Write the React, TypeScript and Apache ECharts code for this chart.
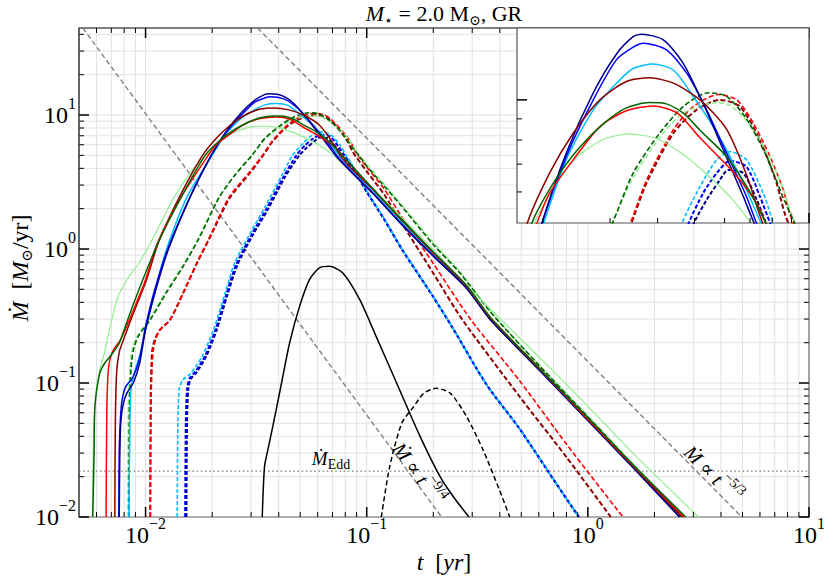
import React, { useEffect, useRef } from 'react';
import * as echarts from 'echarts';

const FF = '"Liberation Serif", "DejaVu Serif", "Times New Roman", serif';

// axis ranges
const X_RANGE = [0.005, 10];
const Y_RANGE = [0.01, 44.6];
const INSET_X_RANGE = [0.01708, 0.1];
const INSET_Y_RANGE = [5.05, 14.9];

// tick positions
const X_DECADES = [0.001, 0.01, 0.1, 1];
const Y_DECADES = [0.01, 0.1, 1, 10];
const X_MAJOR = [0.01, 0.1, 1, 10];
const Y_MAJOR = [0.01, 0.1, 1, 10];
const MINOR_MULT = [2, 3, 4, 5, 6, 7, 8, 9];
const INSET_X_MINOR = [0.02, 0.03, 0.04, 0.05, 0.06, 0.07, 0.08, 0.09];
const INSET_X_MAJOR = [0.1];
const INSET_Y_MINOR = [6, 7, 8, 9];
const INSET_Y_MAJOR = [10];

// reference lines
const POW_53: [number, number][] = [[0.0321, 44.6], [4.97, 0.01]];
const POW_94: [number, number][] = [[0.0052, 44.6], [0.218, 0.01]];
const M_EDD = 0.022;
const EDD_LINE: [number, number][] = [[0.005, M_EDD], [10, M_EDD]];

// curves [t (yr), Mdot (Msun/yr)]
const BLACK_S: [number, number][] = [[0.0337,0.01],[0.0345,0.0237],[0.0357,0.0316],[0.0376,0.0472],[0.0412,0.1],[0.0448,0.199],[0.0497,0.373],[0.0551,0.591],[0.0611,0.723],[0.0678,0.743],[0.0778,0.664],[0.093,0.419],[0.1104,0.222],[0.1365,0.1],[0.1745,0.0398],[0.215,0.0199],[0.247,0.0141],[0.29,0.01]];
const BLACK_D: [number, number][] = [[0.1164,0.01],[0.127,0.0237],[0.144,0.05],[0.163,0.0665],[0.181,0.0837],[0.206,0.0914],[0.239,0.0837],[0.283,0.0561],[0.336,0.0316],[0.399,0.0158],[0.443,0.01]];

const LG_S: [number, number][] = [[0.00575,0.01],[0.00582,0.04],[0.00595,0.08],[0.0062,0.125],[0.0065,0.165],[0.0069,0.26],[0.0075,0.44],[0.0083,0.6],[0.0093,0.78],[0.0105,1.1],[0.0118,1.6],[0.0133,2.35],[0.0159,3.7],[0.0188,5.0],[0.0215,6.2],[0.0246,7.3],[0.029,8.05],[0.0338,8.28],[0.04,8.05],[0.047,7.35],[0.055,6.5],[0.063,5.75],[0.0707,5.0],[0.08,4.15],[0.1,3.1],[0.142,1.76],[0.2,0.99],[0.264,0.6],[0.411,0.29],[0.7,0.122],[1.0,0.067],[1.6,0.03],[3.16,0.01]];
const DG_S: [number, number][] = [[0.00577,0.01],[0.00585,0.03],[0.0059,0.066],[0.0062,0.118],[0.00654,0.141],[0.007,0.162],[0.0076,0.198],[0.0084,0.314],[0.0096,0.56],[0.0116,1.19],[0.0147,2.55],[0.0186,5.0],[0.0215,6.4],[0.025,7.7],[0.029,8.8],[0.033,9.55],[0.038,9.85],[0.0422,9.78],[0.047,9.25],[0.0517,8.45],[0.0607,7.3],[0.0699,6.0],[0.0774,5.0],[0.087,4.05],[0.107,2.8],[0.142,1.7],[0.2,0.95],[0.283,0.535],[0.362,0.31],[0.6,0.13],[1.0,0.055],[1.6,0.0245],[2.77,0.01]];
const R_S: [number, number][] = [[0.00663,0.01],[0.00667,0.05],[0.00675,0.11],[0.0069,0.15],[0.00716,0.177],[0.0077,0.21],[0.0087,0.333],[0.01,0.59],[0.0113,1.1],[0.0145,2.45],[0.0192,5.0],[0.0208,5.96],[0.024,7.17],[0.0282,8.62],[0.033,9.4],[0.0389,9.67],[0.045,9.3],[0.0517,8.1],[0.0632,6.7],[0.0729,5.64],[0.0774,5.0],[0.087,4.05],[0.107,2.78],[0.142,1.69],[0.2,0.94],[0.283,0.53],[0.362,0.308],[0.6,0.13],[1.0,0.054],[1.6,0.0242],[2.72,0.01]];
const DR_S: [number, number][] = [[0.00726,0.01],[0.0073,0.05],[0.0074,0.12],[0.0076,0.17],[0.0079,0.205],[0.0088,0.33],[0.0101,0.59],[0.0115,1.15],[0.0145,2.6],[0.0181,5.0],[0.0208,6.66],[0.024,8.31],[0.0282,10.0],[0.0331,11.07],[0.0381,11.3],[0.044,10.97],[0.0517,10.0],[0.0607,8.5],[0.0685,6.6],[0.0758,5.0],[0.085,4.0],[0.107,2.78],[0.142,1.68],[0.2,0.935],[0.283,0.528],[0.362,0.306],[0.6,0.129],[1.0,0.0535],[1.6,0.024],[2.66,0.01]];
const DS_S: [number, number][] = [[0.0084,0.01],[0.0085,0.05],[0.0086,0.09],[0.0089,0.12],[0.0094,0.16],[0.0101,0.27],[0.0111,0.5],[0.0124,0.98],[0.0155,2.5],[0.02,5.0],[0.023,7.17],[0.0271,9.46],[0.0312,10.97],[0.0345,11.9],[0.0389,12.2],[0.044,11.8],[0.0496,10.2],[0.056,8.62],[0.062,7.3],[0.0685,6.07],[0.0751,5.0],[0.085,3.95],[0.107,2.7],[0.142,1.62],[0.2,0.91],[0.283,0.515],[0.362,0.3],[0.6,0.127],[1.0,0.053],[1.6,0.0237],[2.62,0.01]];
const B_S: [number, number][] = [[0.00757,0.01],[0.0076,0.03],[0.0077,0.055],[0.00783,0.0746],[0.00813,0.094],[0.00873,0.109],[0.00937,0.149],[0.01,0.264],[0.011,0.497],[0.0126,1.0],[0.016,2.5],[0.0198,5.0],[0.023,7.3],[0.0271,10.0],[0.0312,12.5],[0.0345,13.4],[0.0367,13.7],[0.0422,13.2],[0.0477,11.6],[0.0538,9.46],[0.0607,7.44],[0.0685,5.85],[0.0731,5.0],[0.085,3.8],[0.107,2.6],[0.142,1.57],[0.2,0.89],[0.283,0.51],[0.362,0.298],[0.6,0.126],[1.0,0.0525],[1.6,0.0235],[2.6,0.01]];
const DB_S: [number, number][] = [[0.0076,0.01],[0.00765,0.03],[0.00772,0.05],[0.0079,0.068],[0.0082,0.083],[0.0088,0.1],[0.0094,0.14],[0.01,0.25],[0.0111,0.49],[0.0127,1.0],[0.016,2.5],[0.0198,5.0],[0.023,7.44],[0.0271,10.4],[0.0312,12.9],[0.0345,14.2],[0.0363,14.4],[0.0414,13.95],[0.0467,12.25],[0.0527,9.8],[0.0595,7.58],[0.0672,5.85],[0.0721,5.0],[0.085,3.75],[0.107,2.58],[0.142,1.56],[0.2,0.885],[0.283,0.508],[0.362,0.297],[0.6,0.126],[1.0,0.0525],[1.6,0.0234],[2.6,0.01]];

const DG_D: [number, number][] = [[0.0084,0.01],[0.00845,0.06],[0.0086,0.13],[0.0088,0.175],[0.00925,0.222],[0.0105,0.296],[0.0124,0.47],[0.0148,0.743],[0.0174,1.19],[0.0215,2.42],[0.0255,3.6],[0.0303,5.0],[0.0345,6.66],[0.0405,8.31],[0.0467,9.63],[0.0543,10.4],[0.0607,10.2],[0.0685,9.0],[0.0774,7.3],[0.0856,5.8],[0.093,4.9],[0.1,4.15],[0.12,2.95],[0.1416,2.15],[0.2,1.08],[0.2635,0.664],[0.362,0.34],[0.6,0.136],[1.0,0.056],[1.6,0.0245],[2.7,0.01]];
const LG_D: [number, number][] = [[0.0083,0.01],[0.00835,0.06],[0.0085,0.13],[0.0087,0.18],[0.0092,0.225],[0.0104,0.3],[0.0123,0.475],[0.0147,0.75],[0.0173,1.2],[0.0214,2.42],[0.0254,3.6],[0.0302,5.0],[0.0345,6.5],[0.0405,8.1],[0.0467,9.3],[0.0572,9.85],[0.062,9.7],[0.0685,8.9],[0.0774,7.5],[0.0856,6.1],[0.0906,5.2],[0.1,4.3],[0.12,3.05],[0.1416,2.2],[0.2,1.12],[0.2635,0.68],[0.362,0.345],[0.6,0.137],[1.0,0.057],[1.6,0.025],[2.72,0.01]];
const R_D: [number, number][] = [[0.0105,0.01],[0.0106,0.08],[0.0108,0.17],[0.0111,0.21],[0.0116,0.249],[0.0129,0.296],[0.0148,0.47],[0.0171,0.79],[0.0193,1.19],[0.0238,2.42],[0.0294,3.72],[0.0338,5.0],[0.0374,6.4],[0.044,8.47],[0.0496,9.63],[0.0577,10.3],[0.0646,10.0],[0.0714,8.79],[0.079,7.3],[0.0856,6.07],[0.0891,5.3],[0.1,4.1],[0.12,2.8],[0.142,1.8],[0.2,0.78],[0.296,0.296],[0.489,0.105],[0.8,0.035],[1.44,0.01]];
const DR_D: [number, number][] = [[0.0105,0.01],[0.01055,0.08],[0.0107,0.17],[0.011,0.21],[0.0116,0.249],[0.0129,0.296],[0.0148,0.47],[0.0171,0.79],[0.0194,1.19],[0.024,2.4],[0.0296,3.68],[0.034,5.0],[0.0374,6.3],[0.044,8.31],[0.0506,9.46],[0.0583,10.0],[0.0659,9.63],[0.0743,8.0],[0.0822,6.3],[0.0865,5.3],[0.1,3.8],[0.12,2.55],[0.142,1.62],[0.2,0.66],[0.271,0.296],[0.489,0.08],[0.8,0.028],[1.27,0.01]];
const DS_D: [number, number][] = [[0.0139,0.01],[0.014,0.05],[0.0142,0.09],[0.0147,0.105],[0.016,0.118],[0.018,0.158],[0.0203,0.25],[0.0229,0.47],[0.0253,0.789],[0.03,1.35],[0.0349,2.1],[0.0415,3.6],[0.0462,5.0],[0.0517,6.18],[0.0572,7.17],[0.062,7.5],[0.0685,7.17],[0.0758,5.96],[0.0809,5.0],[0.09,3.75],[0.0995,2.75],[0.12,1.68],[0.145,0.99],[0.2,0.44],[0.244,0.26],[0.35,0.096],[0.489,0.046],[0.7,0.019],[0.91,0.01]];
const B_D: [number, number][] = [[0.0151,0.01],[0.0152,0.05],[0.0154,0.09],[0.0158,0.108],[0.0168,0.122],[0.0186,0.16],[0.0207,0.25],[0.0232,0.46],[0.0257,0.77],[0.0303,1.3],[0.0352,2.0],[0.042,3.45],[0.0481,5.0],[0.0527,5.96],[0.0572,6.66],[0.062,7.13],[0.0685,6.9],[0.0743,5.85],[0.0793,5.0],[0.09,3.7],[0.0995,2.72],[0.12,1.67],[0.145,0.985],[0.2,0.44],[0.244,0.26],[0.35,0.096],[0.489,0.046],[0.7,0.019],[0.91,0.01]];
const DB_D: [number, number][] = [[0.0153,0.01],[0.0154,0.05],[0.0156,0.09],[0.016,0.107],[0.017,0.12],[0.0188,0.158],[0.0209,0.245],[0.0234,0.45],[0.026,0.76],[0.0306,1.28],[0.0356,1.95],[0.0425,3.4],[0.0496,5.0],[0.0538,5.74],[0.0583,6.41],[0.0613,6.78],[0.0672,6.66],[0.0729,5.74],[0.0774,5.0],[0.09,3.6],[0.0995,2.7],[0.12,1.66],[0.145,0.98],[0.2,0.438],[0.244,0.259],[0.35,0.096],[0.489,0.046],[0.7,0.019],[0.91,0.01]];

type Curve = { data: [number, number][]; color: string; width: number; dash?: number[]; inset: boolean };

const CURVES: Curve[] = [
  { data: BLACK_S, color: '#000000', width: 1.5, inset: false },
  { data: BLACK_D, color: '#000000', width: 1.5, dash: [5, 3], inset: false },
  { data: DB_D, color: '#00008b', width: 2.0, dash: [4, 2], inset: true },
  { data: B_D, color: '#0000ff', width: 2.0, dash: [4, 2], inset: true },
  { data: DS_D, color: '#00bfff', width: 1.6, dash: [4, 2], inset: true },
  { data: DR_D, color: '#8b0000', width: 2.0, dash: [5, 2.5], inset: true },
  { data: R_D, color: '#ff0000', width: 1.6, dash: [5, 2.5], inset: true },
  { data: LG_D, color: '#90ee90', width: 1.6, dash: [5, 2.5], inset: true },
  { data: DG_D, color: '#006400', width: 1.6, dash: [5, 2.5], inset: true },
  { data: LG_S, color: '#90ee90', width: 1.2, inset: true },
  { data: DS_S, color: '#00bfff', width: 1.5, inset: true },
  { data: B_S, color: '#0000ff', width: 1.5, inset: true },
  { data: DB_S, color: '#00008b', width: 1.5, inset: true },
  { data: DR_S, color: '#8b0000', width: 1.5, inset: true },
  { data: R_S, color: '#ff0000', width: 1.5, inset: true },
  { data: DG_S, color: '#006400', width: 1.5, inset: true },
];

function subRich(S: number, s: number, P: number) {
  return {
    n: { fontFamily: FF, fontSize: S, color: '#000', padding: [0, 0, P, 0] },
    i: { fontFamily: FF, fontSize: S, color: '#000', fontStyle: 'italic', padding: [0, 0, P, 0] },
    sub: { fontFamily: FF, fontSize: s, color: '#000', verticalAlign: 'bottom' },
  };
}
function supRich(S: number, s: number, P: number, color = '#000') {
  return {
    n: { fontFamily: FF, fontSize: S, color, padding: [P, 0, 0, 0] },
    i: { fontFamily: FF, fontSize: S, color, fontStyle: 'italic', padding: [P, 0, 0, 0] },
    sup: { fontFamily: FF, fontSize: s, color, verticalAlign: 'top' },
  };
}

const TICK_RICH = {
  b: { fontFamily: FF, fontSize: 24, color: '#000', padding: [8, 0, 8, 0] },
  s: { fontFamily: FF, fontSize: 16, color: '#000', verticalAlign: 'top' },
};

function powLabel(v: number) {
  const e = Math.log10(v);
  const r = Math.round(e);
  if (Math.abs(e - r) > 1e-6) return '';
  return '{b|10}{s|' + (r < 0 ? '\u2212' + -r : String(r)) + '}';
}

function minorList(decades: number[], lo: number, hi: number) {
  const out: number[] = [];
  decades.forEach((d) => MINOR_MULT.forEach((m) => {
    const v = +(d * m).toPrecision(6);
    if (v > lo && v < hi) out.push(v);
  }));
  return out;
}

function tickSeries(axis: 'x' | 'y', major: number[], minor: number[], ref: number, idx: number, opts: { grid: boolean; both: boolean; z: number }) {
  const data: number[][] = [];
  major.forEach((v) => data.push(axis === 'x' ? [v, ref, 1] : [ref, v, 1]));
  minor.forEach((v) => data.push(axis === 'x' ? [v, ref, 0] : [ref, v, 0]));
  return {
    type: 'custom',
    xAxisIndex: idx,
    yAxisIndex: idx,
    silent: true,
    z: opts.z,
    data,
    renderItem: (params: any, api: any) => {
      const cs = params.coordSys;
      const p = api.coord([api.value(0), api.value(1)]);
      const isMajor = api.value(2) === 1;
      const len = isMajor ? 10 : 5;
      const lw = isMajor ? 1.5 : 1;
      const children: any[] = [];
      const tickStyle = { stroke: '#000', lineWidth: lw };
      if (axis === 'x') {
        const x = p[0];
        if (opts.grid) {
          children.push({ type: 'line', shape: { x1: x, y1: cs.y, x2: x, y2: cs.y + cs.height }, style: { stroke: '#e2e2e2', lineWidth: 1 } });
        } else {
          children.push({ type: 'line', shape: { x1: x, y1: cs.y + cs.height, x2: x, y2: cs.y + cs.height - len }, style: tickStyle });
          if (opts.both) children.push({ type: 'line', shape: { x1: x, y1: cs.y, x2: x, y2: cs.y + len }, style: tickStyle });
        }
      } else {
        const y = p[1];
        if (opts.grid) {
          children.push({ type: 'line', shape: { x1: cs.x, y1: y, x2: cs.x + cs.width, y2: y }, style: { stroke: '#e2e2e2', lineWidth: 1 } });
        } else {
          children.push({ type: 'line', shape: { x1: cs.x, y1: y, x2: cs.x + len, y2: y }, style: tickStyle });
          if (opts.both) children.push({ type: 'line', shape: { x1: cs.x + cs.width, y1: y, x2: cs.x + cs.width - len, y2: y }, style: tickStyle });
        }
      }
      return { type: 'group', children };
    },
  };
}

function buildOption() {
  const xMinor = minorList(X_DECADES, X_RANGE[0], X_RANGE[1]);
  const yMinor = minorList(Y_DECADES, Y_RANGE[0], Y_RANGE[1]);

  const series: any[] = [];
  // main grid lines
  series.push(tickSeries('x', X_MAJOR, xMinor, 1, 0, { grid: true, both: false, z: 1 }));
  series.push(tickSeries('y', Y_MAJOR, yMinor, 1, 0, { grid: true, both: false, z: 1 }));

  const refLine = (data: [number, number][], dash: number[], width: number) => ({
    type: 'line', data, xAxisIndex: 0, yAxisIndex: 0, showSymbol: false, symbol: 'none', silent: true, z: 2,
    lineStyle: { color: '#808080', width, type: dash },
  });
  series.push(refLine(POW_94, [5, 3], 1.4));
  series.push(refLine(POW_53, [5, 3], 1.4));
  series.push(refLine(EDD_LINE, [1.6, 2.6], 1.3));

  CURVES.forEach((c) => {
    const base = {
      type: 'line', data: c.data, showSymbol: false, symbol: 'none', silent: true, smooth: 0.25,
      lineStyle: { color: c.color, width: c.width, type: c.dash ? c.dash : 'solid' },
    };
    series.push({ ...base, xAxisIndex: 0, yAxisIndex: 0, z: 3 });
    if (c.inset) series.push({ ...base, xAxisIndex: 1, yAxisIndex: 1, z: 7 });
  });

  // main ticks (all four sides)
  series.push(tickSeries('x', X_MAJOR, xMinor, 1, 0, { grid: false, both: true, z: 4 }));
  series.push(tickSeries('y', Y_MAJOR, yMinor, 1, 0, { grid: false, both: true, z: 4 }));
  // inset ticks (bottom and left)
  series.push(tickSeries('x', INSET_X_MAJOR, INSET_X_MINOR, 8, 1, { grid: false, both: false, z: 8 }));
  series.push(tickSeries('y', INSET_Y_MAJOR, INSET_Y_MINOR, 0.05, 1, { grid: false, both: false, z: 8 }));

  const graphic: any[] = [
    {
      type: 'text', x: 444, y: 15, z: 20, silent: true,
      style: { text: '{i|M}{sub|\u22c6}{n| = 2.0 M}{sub|\u2299}{n|, GR}', rich: subRich(22, 14, 3), align: 'center', verticalAlign: 'middle' },
    },
    {
      type: 'text', x: 444, y: 562, z: 20, silent: true,
      style: { text: '{i|t}{n|  [}{i|yr}{n|]}', rich: subRich(24, 15, 0), align: 'center', verticalAlign: 'middle' },
    },
    {
      type: 'text', x: 21, y: 268, rotation: Math.PI / 2, z: 20, silent: true,
      style: { text: '{i|\u1e40}{n|  [}{i|M}{sub|\u2299}{n|/yr]}', rich: subRich(24, 15, 3), align: 'center', verticalAlign: 'middle' },
    },
    {
      type: 'text', x: 331, y: 460, z: 20, silent: true,
      style: { text: '{i|\u1e40}{sub|Edd}', rich: subRich(19, 14, 3), align: 'center', verticalAlign: 'middle' },
    },
    {
      type: 'text', x: 421, y: 472, rotation: -0.937, z: 20, silent: true,
      style: { text: '{i|\u1e40}{n| \u221d }{i|t}{sup|\u22129/4}', rich: supRich(20, 14, 6), align: 'center', verticalAlign: 'middle' },
    },
    {
      type: 'text', x: 715, y: 472, rotation: -0.789, z: 20, silent: true,
      style: { text: '{i|\u1e40}{n| \u221d }{i|t}{sup|\u22125/3}', rich: supRich(20, 14, 6), align: 'center', verticalAlign: 'middle' },
    },
  ];

  return {
    animation: false,
    backgroundColor: '#ffffff',
    grid: [
      { left: 79, top: 28, right: 21, bottom: 62, show: true, backgroundColor: 'transparent', borderColor: '#000', borderWidth: 1.2, z: 0 },
      { left: 517, top: 28, right: 21, bottom: 356, show: true, backgroundColor: '#ffffff', borderColor: '#555', borderWidth: 1.2, z: 6 },
    ],
    xAxis: [
      {
        type: 'log', logBase: 10, gridIndex: 0, min: X_RANGE[0], max: X_RANGE[1],
        axisLine: { show: false }, axisTick: { show: false }, splitLine: { show: false }, minorTick: { show: false },
        axisLabel: { formatter: powLabel, rich: TICK_RICH, margin: -2 },
      },
      {
        type: 'log', logBase: 10, gridIndex: 1, min: INSET_X_RANGE[0], max: INSET_X_RANGE[1],
        axisLine: { show: false }, axisTick: { show: false }, splitLine: { show: false }, axisLabel: { show: false },
      },
    ],
    yAxis: [
      {
        type: 'log', logBase: 10, gridIndex: 0, min: Y_RANGE[0], max: Y_RANGE[1],
        axisLine: { show: false }, axisTick: { show: false }, splitLine: { show: false }, minorTick: { show: false },
        axisLabel: { formatter: powLabel, rich: TICK_RICH, margin: 3 },
      },
      {
        type: 'log', logBase: 10, gridIndex: 1, min: INSET_Y_RANGE[0], max: INSET_Y_RANGE[1],
        axisLine: { show: false }, axisTick: { show: false }, splitLine: { show: false }, axisLabel: { show: false },
      },
    ],
    series,
    graphic,
  };
}

export default function App() {
  const ref = useRef<HTMLDivElement>(null);
  useEffect(() => {
    document.body.style.margin = '0';
    if (!ref.current) return;
    const chart = echarts.init(ref.current, null, { renderer: 'svg' });
    chart.setOption(buildOption() as any);
    return () => chart.dispose();
  }, []);
  return <div ref={ref} style={{ width: 830, height: 579 }} />;
}
